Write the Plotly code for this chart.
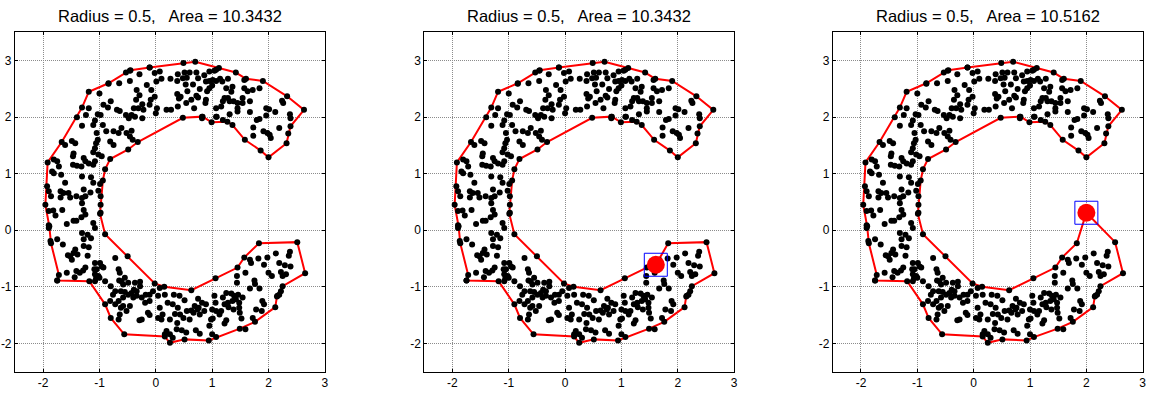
import plotly.graph_objects as go

# ---------------- data ----------------
pts_x = [
 -0.46,-0.11,-0.29,-0.46,-0.02,0.07,0.10,0.01,-0.65,-0.84,-1.0,-0.16,-0.08,-0.34,-0.29,-0.35,-0.09,-0.02,-0.11,0.02,
 0.0,0.19,-0.24,-0.31,-0.22,-0.39,-0.43,-0.48,-0.37,-0.24,-0.8,-0.93,-0.85,-1.19,-1.24,-1.03,-0.98,-1.08,-1.11,-0.94,
 -0.69,-0.64,-0.53,-0.61,-0.75,-0.66,-0.52,-0.43,-0.46,-0.41,-0.88,-0.75,-0.81,-1.05,-1.03,-1.06,-1.31,-1.08,-1.11,-1.02,
 -0.96,-1.49,-1.43,-1.61,-1.46,-1.47,-1.28,-1.25,-1.32,-1.19,-1.08,-1.11,-1.47,-1.40,-1.81,-1.75,-1.72,-1.84,-1.81,-1.68,
 -1.31,-1.61,-1.15,-1.11,-1.28,-1.16,-1.93,-1.90,-1.69,-1.64,-1.55,-1.52,-1.41,-1.69,-0.99,-1.02,
 # upper right
 0.51,0.60,0.39,0.26,0.38,0.48,0.55,0.72,0.75,0.86,0.95,1.04,1.07,0.89,0.95,1.01,1.07,1.14,1.18,1.28,
 1.0,0.95,0.91,0.53,0.66,0.78,0.56,0.38,0.44,0.41,0.72,0.75,0.63,0.54,0.39,0.27,0.68,0.89,0.88,1.25,
 1.36,1.34,1.22,1.28,1.31,1.19,1.16,1.07,1.38,1.45,1.45,1.54,1.54,1.63,1.72,1.67,1.57,1.45,1.31,1.08,
 1.19,1.67,1.84,1.57,2.24,2.26,1.96,2.01,2.12,1.96,1.79,1.84,1.73,1.91,1.98,2.02,2.04,2.19,2.38,2.39,
 2.35,1.73,0.82,0.82,1.07,
 # lower left
 -1.86,-1.31,-1.25,-1.31,-0.98,-0.98,-1.90,-1.82,-1.78,-1.66,-1.28,-1.25,-1.32,-1.46,-1.41,-1.58,-1.90,-1.90,-1.11,-1.08,
 -0.98,-1.31,-1.21,-1.15,-1.28,-1.75,-1.87,-1.65,-1.28,-1.19,-1.43,-1.46,-1.52,-1.39,-1.21,-1.56,-1.49,-1.25,-1.29,-1.35,
 -1.41,-1.58,-1.44,-1.08,-0.99,-0.96,-1.09,-1.05,-1.08,-1.02,-1.06,-1.00,-1.08,-0.93,-0.90,-0.72,-0.66,-0.64,-0.55,-0.49,
 -0.61,-0.65,-0.37,-0.28,-0.58,-0.80,-0.72,-0.76,-0.81,-0.62,-0.55,-0.49,-0.43,-0.39,-0.34,-0.28,-0.34,-0.40,-0.58,-0.66,
 -0.72,-0.62,-0.58,-0.52,-0.46,-0.64,-0.66,-0.29,-0.25,-0.19,-0.11,-0.14,-0.11,-0.25,-0.18,-0.11,-0.05,0.07,0.04,0.07,
 0.04,0.10,0.12,0.19,
 # lower right
 1.67,1.69,1.82,1.98,2.13,2.38,2.36,2.19,2.29,2.39,1.92,2.0,2.06,2.22,2.25,2.31,1.59,1.44,1.44,1.75,
 1.76,1.84,1.67,2.22,2.19,2.16,1.89,1.92,1.78,1.88,1.72,1.25,1.34,1.39,1.46,1.42,1.36,1.48,1.54,1.48,
 1.49,1.52,1.28,1.19,1.22,1.16,1.13,1.04,1.06,1.0,1.07,1.01,1.22,1.25,0.98,0.89,0.82,0.86,0.74,0.69,
 0.78,0.67,0.63,0.55,0.60,0.49,0.43,0.39,0.30,0.21,0.16,0.32,0.42,0.51,0.75,0.76,0.38,0.46,0.54,0.37,
 0.25,0.30,0.16,0.71,0.78,1.0,0.25,0.34,0.95,1.29,1.38,1.59,
]
pts_y = [
 2.82,2.88,2.76,2.64,2.78,2.81,2.68,2.63,2.60,2.59,2.42,2.57,2.48,2.48,2.39,2.31,2.31,2.36,2.22,2.16,
 2.07,2.13,2.23,2.16,2.13,2.16,2.04,1.98,2.01,1.98,2.28,2.22,2.17,2.16,2.04,2.05,2.04,1.94,1.86,1.86,
 2.13,2.11,2.04,1.81,1.75,1.72,1.72,1.76,1.66,1.60,1.75,1.51,1.57,1.72,1.60,1.54,1.85,1.45,1.38,1.34,
 1.31,1.58,1.54,1.51,1.36,1.31,1.28,1.22,1.13,1.18,1.22,1.16,1.16,1.14,1.25,1.22,1.13,1.04,1.01,0.98,
 0.95,0.84,0.94,0.84,0.72,0.67,0.78,0.69,0.69,0.66,0.66,0.58,0.60,0.58,0.82,0.70,
 # upper right
 2.79,2.79,2.76,2.68,2.64,2.69,2.70,2.79,2.69,2.74,2.81,2.82,2.84,2.63,2.64,2.66,2.64,2.68,2.63,2.68,
 2.56,2.51,2.46,2.58,2.58,2.50,2.46,2.41,2.36,2.33,2.38,2.35,2.31,2.25,2.19,2.13,2.16,2.31,2.25,2.51,
 2.54,2.45,2.34,2.34,2.28,2.28,2.19,2.16,2.28,2.25,2.16,2.34,2.25,2.46,2.48,2.28,2.51,2.10,2.05,2.01,
 1.95,2.09,2.51,2.66,2.29,2.25,2.16,2.14,2.09,2.03,1.95,1.97,1.82,1.75,1.72,1.69,1.63,1.81,2.05,1.98,
 1.71,1.67,2.01,1.98,2.01,
 # lower left
 0.60,0.57,0.60,0.48,0.60,0.45,0.34,0.35,0.26,0.36,0.36,0.28,0.23,0.17,0.17,0.11,0.09,0.04,0.13,0.04,
 0.31,-0.05,-0.08,-0.14,-0.16,-0.16,-0.19,-0.25,-0.28,-0.30,-0.34,-0.40,-0.46,-0.43,-0.45,-0.44,-0.52,-0.66,-0.71,-0.75,
 -0.72,-0.75,-0.83,-0.58,-0.58,-0.64,-0.69,-0.69,-0.78,-0.81,-0.85,-0.84,-0.90,-0.66,-0.90,-0.49,-0.69,-0.75,-0.84,-0.93,
 -0.90,-0.89,-0.93,-0.91,-0.96,-0.99,-1.08,-1.14,-1.25,-1.08,-1.09,-1.14,-1.11,-1.05,-1.08,-0.99,-1.16,-1.19,-1.19,-1.25,
 -1.31,-1.37,-1.34,-1.43,-1.34,-1.49,-1.58,-1.59,-1.58,-1.28,-1.25,-1.46,-1.50,-1.19,-1.14,-1.14,-1.08,-1.02,-1.16,-1.37,
 -1.55,-1.58,-1.49,-1.78,
 # lower right
 -0.52,-0.58,-0.50,-0.48,-0.41,-0.38,-0.45,-0.58,-0.62,-0.64,-0.61,-0.75,-0.81,-0.74,-0.81,-0.78,-0.75,-0.81,-0.93,-0.89,
 -0.95,-1.03,-1.03,-1.08,-1.14,-1.16,-1.25,-1.31,-1.40,-1.43,-1.55,-1.11,-1.12,-1.16,-1.14,-1.22,-1.25,-1.28,-1.19,-1.37,
 -1.46,-1.56,-1.28,-1.19,-1.31,-1.43,-1.49,-1.16,-1.28,-1.40,-1.43,-1.56,-1.65,-1.59,-1.58,-1.31,-1.28,-1.43,-1.40,-1.34,
 -1.49,-1.46,-1.42,-1.43,-1.58,-1.55,-1.49,-1.37,-1.31,-1.28,-1.14,-1.14,-1.16,-1.24,-1.21,-1.37,-1.64,-1.77,-1.81,-1.75,
 -1.84,-1.90,-1.84,-1.77,-1.83,-1.84,-1.58,-1.48,-1.69,-1.36,-1.40,-1.75,
]

# boundary (alpha shape) vertices of the first panel, in drawing order (each is also a data point)
hull_x = [-1.75,-1.72,-1.86,-1.89,-1.96,-1.92,-1.67,-1.40,-1.31,-1.19,-0.84,-0.53,-0.45,-0.11,0.49,0.70,1.12,1.42,1.60,1.90,
          2.33,2.63,2.39,2.32,2.00,1.86,1.58,1.36,1.27,0.99,0.83,0.48,-0.32,-0.49,-0.81,-0.90,-0.94,-0.99,-0.90,-0.50,
          -0.02,0.15,0.63,1.06,1.45,1.57,1.83,2.51,2.65,2.25,2.15,2.12,1.76,1.49,1.07,0.94,0.51,0.25,0.16,-0.56,
          -0.80,-0.90,-1.18,-1.75]
hull_y = [-0.89,-0.79,-0.23,0.07,0.45,1.20,1.56,2.00,2.17,2.45,2.60,2.79,2.83,2.88,2.96,2.98,2.87,2.79,2.68,2.64,
          2.37,2.13,1.84,1.54,1.29,1.41,1.60,1.86,1.92,1.91,2.01,1.99,1.56,1.43,1.26,1.08,0.88,0.29,-0.07,-0.46,
          -0.94,-1.00,-1.06,-0.85,-0.66,-0.48,-0.23,-0.21,-0.76,-0.99,-1.17,-1.36,-1.62,-1.74,-1.89,-1.95,-1.93,-1.99,-1.88,-1.84,
          -1.55,-1.31,-0.90,-0.89]

# dragged point per panel (none in the first)
moved_x = [None, 1.61, 2.00]
moved_y = [None, -0.61, 0.31]
titles = ["Radius = 0.5,   Area = 10.3432",
          "Radius = 0.5,   Area = 10.3432",
          "Radius = 0.5,   Area = 10.5162"]
tick_vals = [-2, -1, 0, 1, 2, 3]
tick_text = ["-2", "-1", "0", "1", "2", "3"]

# ---------------- build hulls for each panel ----------------
i_a = hull_x.index(1.57)   # vertex that was dragged in panel 2
i_b = hull_x.index(1.83)   # dragged point inserted after this one in panel 3
hulls = [
    (hull_x, hull_y),
    (hull_x[:i_a] + [moved_x[1]] + hull_x[i_a + 1:], hull_y[:i_a] + [moved_y[1]] + hull_y[i_a + 1:]),
    (hull_x[:i_b + 1] + [moved_x[2]] + hull_x[i_b + 1:], hull_y[:i_b + 1] + [moved_y[2]] + hull_y[i_b + 1:]),
]

W, H = 1151, 393
x_px = [(15, 326), (425.7, 736.7), (835.7, 1146.7)]
y_px = (32.4, 371.6)

fig = go.Figure()
FONT = "Arial, 'Liberation Sans', sans-serif"

for k in range(3):
    xa = "x" if k == 0 else f"x{k+1}"
    ya = "y" if k == 0 else f"y{k+1}"
    hx, hy = hulls[k]
    fig.add_trace(go.Scatter(x=hx, y=hy, mode="lines", xaxis=xa, yaxis=ya,
                             line=dict(color="#ff0000", width=2), hoverinfo="skip", showlegend=False))
    fig.add_trace(go.Scatter(x=pts_x + hx, y=pts_y + hy, mode="markers", xaxis=xa, yaxis=ya,
                             marker=dict(color="black", size=6, line=dict(width=0)), showlegend=False))
    if moved_x[k] is not None:
        fig.add_trace(go.Scatter(x=[moved_x[k]], y=[moved_y[k]], mode="markers", xaxis=xa, yaxis=ya,
                                 marker=dict(color="#ff0000", size=18, line=dict(width=0)), showlegend=False))
        fig.add_trace(go.Scatter(x=[moved_x[k]], y=[moved_y[k]], mode="markers", xaxis=xa, yaxis=ya,
                                 marker=dict(symbol="square-open", color="#0000ff", size=23, line=dict(width=1)),
                                 showlegend=False))

    axis_common = dict(showgrid=True, gridcolor="#8c8c8c", griddash="1px,1px", gridwidth=1,
                       zeroline=False, showline=True, linecolor="black", linewidth=1, mirror="allticks",
                       ticks="inside", ticklen=3, tickcolor="black", tickvals=tick_vals, ticktext=tick_text,
                       tickfont=dict(family=FONT, size=12, color="black"), fixedrange=True)
    xdom = [x_px[k][0] / W, x_px[k][1] / W]
    ydom = [1 - y_px[1] / H, 1 - y_px[0] / H]
    fig.layout[("xaxis" if k == 0 else f"xaxis{k+1}")] = dict(
        domain=xdom, range=[-2.5, 3], anchor=ya, **axis_common)
    fig.layout[("yaxis" if k == 0 else f"yaxis{k+1}")] = dict(
        domain=ydom, range=[-2.5, 3.5], anchor=xa, **axis_common)
    fig.add_annotation(text=titles[k], xref="paper", yref="paper",
                       x=(xdom[0] + xdom[1]) / 2, y=1 - 16 / H, xanchor="center", yanchor="middle",
                       showarrow=False, font=dict(family=FONT, size=16.5, color="black"))

fig.update_layout(width=W, height=H, margin=dict(l=0, r=0, t=0, b=0),
                  paper_bgcolor="white", plot_bgcolor="white")
fig.write_html("out.html")
